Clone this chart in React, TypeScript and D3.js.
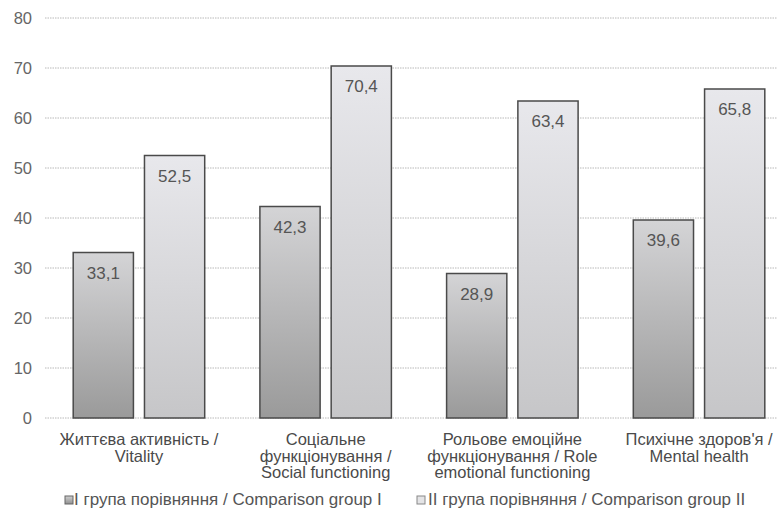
import React from "react";
import * as d3 from "d3";

const categories: string[][] = [
  ["Життєва активність /", "Vitality"],
  ["Соціальне", "функціонування /", "Social functioning"],
  ["Рольове емоційне", "функціонування / Role", "emotional functioning"],
  ["Психічне здоров'я /", "Mental health"],
];
const seriesNames = ["I група порівняння / Comparison group I", "II група порівняння / Comparison group II"];
const group1 = [33.1, 42.3, 28.9, 39.6];
const group2 = [52.5, 70.4, 63.4, 65.8];
const yTicks = [0, 10, 20, 30, 40, 50, 60, 70, 80];

const W = 777;
const H = 520;
const FONT = "'Liberation Sans', Arial, sans-serif";

export default function App() {
  const catKeys = categories.map((_, i) => String(i));
  const x = d3.scaleBand<string>().domain(catKeys).range([45.7, 45.7 + 4 * 186.7]).padding(0);
  const xs = d3.scaleBand<string>().domain(["0", "1"]).range([27.5, 159]).paddingInner(0.155);
  const y = d3.scaleLinear().domain([0, 80]).range([418, 18]);
  const series = [group1, group2];
  const fills = ["url(#g1)", "url(#g2)"];
  const fmt = (v: number) => v.toFixed(1).replace(".", ",");

  return (
    <svg width={W} height={H} style={{ position: "absolute", left: 0, top: 0, background: "#fff" }}>
      <defs>
        <linearGradient id="g1" x1="0" y1="0" x2="0" y2="1">
          <stop offset="0" stopColor="#d4d4d6" />
          <stop offset="1" stopColor="#9a9a9a" />
        </linearGradient>
        <linearGradient id="g2" x1="0" y1="0" x2="0" y2="1">
          <stop offset="0" stopColor="#e8e8ec" />
          <stop offset="1" stopColor="#c6c6c8" />
        </linearGradient>
        <linearGradient id="lg1" x1="0" y1="0" x2="0" y2="1">
          <stop offset="0" stopColor="#d0d0d0" />
          <stop offset="1" stopColor="#909090" />
        </linearGradient>
      </defs>
      {yTicks.map((t) => (
        <g key={t}>
          <line x1={45} x2={W} y1={y(t)} y2={y(t)} stroke="#b8b8b8" strokeWidth={1} strokeDasharray="1.5 1" />
          <text x={32} y={y(t)} dy="0.36em" textAnchor="end" fontFamily={FONT} fontSize={16.5} fill="#666">
            {t}
          </text>
        </g>
      ))}
      {categories.map((_, i) =>
        series.map((s, j) => {
          const bx = (x(String(i)) as number) + (xs(String(j)) as number);
          const bw = xs.bandwidth();
          const v = s[i];
          return (
            <g key={`${i}-${j}`}>
              <rect x={bx} y={y(v)} width={bw} height={y(0) - y(v)} fill={fills[j]} stroke="#4a4a4a" strokeWidth={1.5} />
              <text x={bx + bw / 2} y={y(v) + 26} textAnchor="middle" fontFamily={FONT} fontSize={17} fill="#555">
                {fmt(v)}
              </text>
            </g>
          );
        })
      )}
      {categories.map((lines, i) => (
        <text key={i} textAnchor="middle" fontFamily={FONT} fontSize={16.5} fill="#4a4a4a">
          {lines.map((l, k) => (
            <tspan key={k} x={(x(String(i)) as number) + 93.3} y={445 + k * 16.5}>
              {l}
            </tspan>
          ))}
        </text>
      ))}
      <g>
        <rect x={65} y={496} width={8} height={8} fill="url(#lg1)" stroke="#666" strokeWidth={1} />
        <text x={74} y={505} fontFamily={FONT} fontSize={17} fill="#555">
          {seriesNames[0]}
        </text>
        <rect x={417} y={496} width={8} height={8} fill="#e4e4e6" stroke="#888" strokeWidth={1} />
        <text x={428} y={505} fontFamily={FONT} fontSize={17} fill="#555">
          {seriesNames[1]}
        </text>
      </g>
    </svg>
  );
}
